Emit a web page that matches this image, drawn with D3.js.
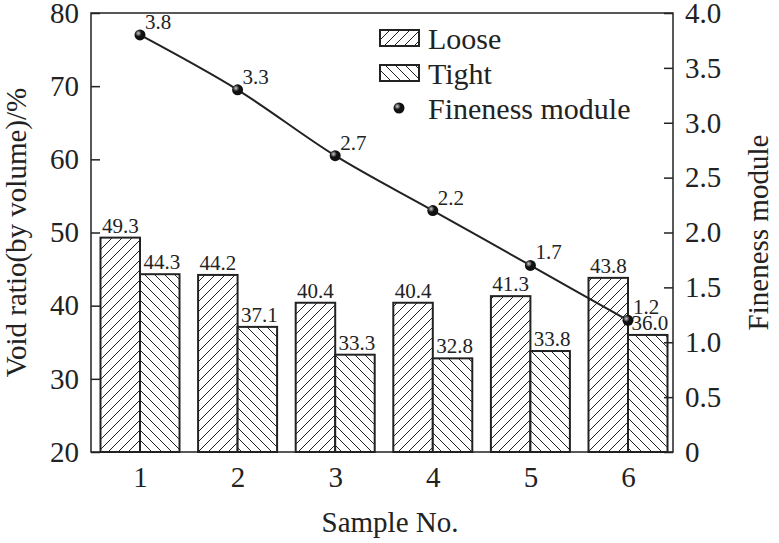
<!DOCTYPE html>
<html><head><meta charset="utf-8">
<script src="https://cdn.jsdelivr.net/npm/d3@7"></script>
<style>body{margin:0;background:#fff}text{font-family:"Liberation Serif",serif;fill:#222}</style>
</head><body><div id="wrapper"></div>
<script>
const samples = [1, 2, 3, 4, 5, 6]
const loose = [49.3, 44.2, 40.4, 40.4, 41.3, 43.8]
const tight = [44.3, 37.1, 33.3, 32.8, 33.8, 36.0]
const fineness = [3.8, 3.3, 2.7, 2.2, 1.7, 1.2]
const leftTicks = [20, 30, 40, 50, 60, 70, 80]
const rightTicks = [0, 0.5, 1.0, 1.5, 2.0, 2.5, 3.0, 3.5, 4.0]

const W = 779, H = 543
const m = {left: 91, right: 673, top: 13, bottom: 452}
const svg = d3.select('#wrapper').append('svg').attr('width', W).attr('height', H)

const defs = svg.append('defs')
function hatch(id, dir) {
  const p = defs.append('pattern').attr('id', id).attr('patternUnits', 'userSpaceOnUse')
    .attr('width', 10).attr('height', 10)
  p.append('rect').attr('width', 10).attr('height', 10).attr('fill', '#fff')
  const d = dir > 0 ? 'M-2,12 L12,-2 M-2,2 L2,-2 M8,12 L12,8' : 'M-2,-2 L12,12 M-2,8 L2,12 M8,-2 L12,2'
  p.append('path').attr('d', d).attr('stroke', '#222').attr('stroke-width', 1)
}
hatch('hLoose', 1)
hatch('hTight', -1)

const x = d3.scaleLinear().domain([1, 6]).range([140, 628])
const y = d3.scaleLinear().domain([20, 80]).range([m.bottom, m.top])
const y2 = d3.scaleLinear().domain([0, 4]).range([m.bottom, m.top])
const bw = 39.5

// bars
const g = svg.append('g')
samples.forEach((s, i) => {
  g.append('rect').attr('x', x(s) - bw).attr('y', y(loose[i])).attr('width', bw)
    .attr('height', y(20) - y(loose[i])).attr('fill', 'url(#hLoose)').attr('stroke', '#222').attr('stroke-width', 2)
  g.append('rect').attr('x', x(s)).attr('y', y(tight[i])).attr('width', bw)
    .attr('height', y(20) - y(tight[i])).attr('fill', 'url(#hTight)').attr('stroke', '#222').attr('stroke-width', 2)
  g.append('text').attr('x', x(s) - bw / 2).attr('y', y(loose[i]) - 5).attr('text-anchor', 'middle')
    .attr('font-size', 21).text(loose[i].toFixed(1))
  g.append('text').attr('x', x(s) + bw / 2 + 2).attr('y', y(tight[i]) - 5).attr('text-anchor', 'middle')
    .attr('font-size', 21).text(tight[i].toFixed(1))
})

// fineness line
const line = d3.line().x((d, i) => x(samples[i])).y(d => y2(d)).curve(d3.curveCatmullRom)
svg.append('path').attr('d', line(fineness)).attr('fill', 'none').attr('stroke', '#222').attr('stroke-width', 2)
const grad = defs.append('radialGradient').attr('id', 'ball').attr('cx', '35%').attr('cy', '35%')
grad.append('stop').attr('offset', '0%').attr('stop-color', '#ccc')
grad.append('stop').attr('offset', '60%').attr('stop-color', '#111')
samples.forEach((s, i) => {
  svg.append('circle').attr('cx', x(s)).attr('cy', y2(fineness[i])).attr('r', 5.5).attr('fill', 'url(#ball)')
  svg.append('text').attr('x', x(s) + 5).attr('y', y2(fineness[i]) - 6).attr('font-size', 21).text(fineness[i].toFixed(1))
})

// frame
svg.append('rect').attr('x', m.left).attr('y', m.top).attr('width', m.right - m.left)
  .attr('height', m.bottom - m.top).attr('fill', 'none').attr('stroke', '#222').attr('stroke-width', 1.5)

// axes
const axL = svg.append('g').attr('transform', `translate(${m.left},0)`)
  .call(d3.axisLeft(y).tickValues(leftTicks).tickSize(-9).tickPadding(12))
const axR = svg.append('g').attr('transform', `translate(${m.right},0)`)
  .call(d3.axisRight(y2).tickValues(rightTicks).tickSize(-9).tickPadding(12).tickFormat(d => d === 0 ? '0' : d.toFixed(1)))
const axB = svg.append('g').attr('transform', `translate(0,${m.bottom})`)
  .call(d3.axisBottom(x).tickValues(samples).tickSize(0).tickPadding(14).tickFormat(d3.format('d')))
;[axL, axR, axB].forEach(a => {
  a.select('.domain').remove()
  a.selectAll('line').attr('stroke', '#222').attr('stroke-width', 1.5)
  a.selectAll('text').attr('font-size', 29).attr('font-family', '"Liberation Serif",serif').attr('fill', '#222')
})

svg.append('text').attr('x', (m.left + m.right) / 2 + 8).attr('y', 532).attr('text-anchor', 'middle')
  .attr('font-size', 29).text('Sample No.')
svg.append('text').attr('transform', `translate(26,${(m.top + m.bottom) / 2}) rotate(-90)`)
  .attr('text-anchor', 'middle').attr('font-size', 29).text('Void ratio(by volume)/%')
svg.append('text').attr('transform', `translate(768,${(m.top + m.bottom) / 2}) rotate(-90)`)
  .attr('text-anchor', 'middle').attr('font-size', 29).text('Fineness module')

// legend
const leg = [{t: 'Loose', f: 'url(#hLoose)'}, {t: 'Tight', f: 'url(#hTight)'}, {t: 'Fineness module'}]
leg.forEach((d, i) => {
  const ly = 40 + i * 35
  if (d.f) svg.append('rect').attr('x', 380).attr('y', ly - 10).attr('width', 39).attr('height', 16)
    .attr('fill', d.f).attr('stroke', '#222').attr('stroke-width', 2)
  else svg.append('circle').attr('cx', 399).attr('cy', ly - 2).attr('r', 5.5).attr('fill', 'url(#ball)')
  svg.append('text').attr('x', 428).attr('y', ly + 9).attr('font-size', 30).text(d.t)
})
</script></body></html>
